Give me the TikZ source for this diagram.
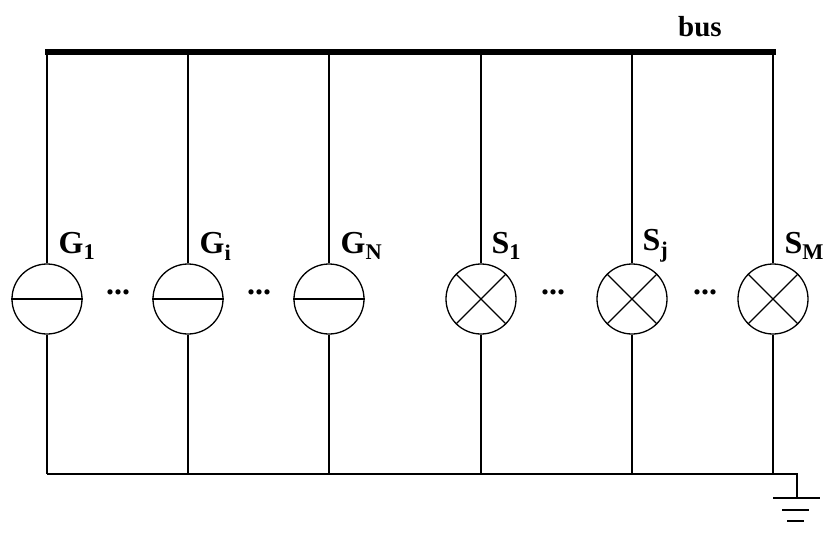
\documentclass[tikz,border=0pt]{standalone}
\usepackage{fontspec}
\setmainfont{Liberation Serif}
\begin{document}
\begin{tikzpicture}[x=1pt,y=-1pt,line width=1.3pt,
 lbl/.style={font=\fontsize{32}{32}\selectfont\bfseries,anchor=west,inner sep=0},
 dots/.style={font=\fontsize{32}{32}\selectfont\bfseries,inner sep=0},
 src/.style={draw,circle,minimum size=70pt,inner sep=0}]
\useasboundingbox (0,0) rectangle (830,533);
\draw[line width=6pt] (45,52) -- (776,52);
\node[font=\fontsize{29}{29}\selectfont\bfseries,inner sep=0] (bus) at (700,27) {bus};
\foreach \n/\x in {g1/47,gi/188,gn/329}{
  \node[src] (\n) at (\x,299) {};
  \draw (\n.west) -- (\n.east);
  \draw (\x,52) -- (\n.north);
  \draw (\n.south) -- (\x,474);
}
\foreach \n/\x in {s1/481,sj/632,sm/773}{
  \node[src] (\n) at (\x,299) {};
  \draw (\n.north west) -- (\n.south east);
  \draw (\n.north east) -- (\n.south west);
  \draw (\x,52) -- (\n.north);
  \draw (\n.south) -- (\x,474);
}
\node[lbl] at (58,246) {G\textsubscript{1}};
\node[lbl] at (199,246) {G\textsubscript{i}};
\node[lbl] at (340,246) {G\textsubscript{N}};
\node[lbl] at (491,246) {S\textsubscript{1}};
\node[lbl] at (642,246) {S\textsubscript{j}};
\node[lbl] at (784,246) {S\textsubscript{M}};
\foreach \x in {118,259,553,705}{\node[dots] at (\x,292) {...};}
\coordinate (gc) at (797,474);
\draw (47,474) -- (gc) -- (797,498);
\draw (773,498) -- (820,498);
\draw (782,510) -- (809,510);
\draw (787,521) -- (804,521);
\end{tikzpicture}
\end{document}
